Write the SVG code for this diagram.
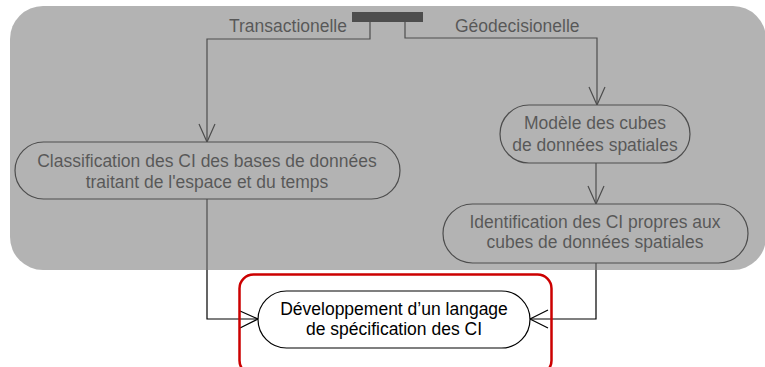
<svg xmlns="http://www.w3.org/2000/svg" width="765" height="367" viewBox="0 0 765 367">
  <style>
    .node { fill: #ffffff; stroke: #000000; stroke-width: 1.2; }
    .lbl { font-family: "Liberation Sans", Arial, sans-serif; font-size: 17.5px; fill: #000000; }
    .dim { fill: #1a1a1a; }
    .mid { text-anchor: middle; }
    .wire { fill: none; stroke: #000000; stroke-width: 1.2; }
    .head { fill: none; stroke: #000000; stroke-width: 1.2; }
  </style>
  <rect width="765" height="367" fill="#ffffff"/>

  <!-- fork bar -->
  <g id="fork">
    <rect x="352" y="12" width="71" height="10" fill="#000000"/>
  </g>

  <!-- connectors -->
  <g id="connectors">
    <polyline class="wire" points="370,22 370,39 207,39 207,142"/>
    <polyline class="head" points="199,124 207,142 215,124"/>
    <polyline class="wire" points="405,22 405,38 597,38 597,105"/>
    <polyline class="head" points="589,87 597,105 605,87"/>
    <line class="wire" x1="596" y1="163" x2="596" y2="204"/>
    <polyline class="head" points="588,186 596,204 604,186"/>
    <polyline class="wire" points="207,199 207,319 258,319"/>
    <polyline class="head" points="240,311 258,319 240,328"/>
    <polyline class="wire" points="596,263 596,319 530,319"/>
    <polyline class="head" points="548,310 530,319 548,328"/>
  </g>

  <!-- guard labels -->
  <g id="guards">
    <text class="lbl dim" x="347" y="32" text-anchor="end">Transactionelle</text>
    <text class="lbl dim" x="455" y="32">Géodecisionelle</text>
  </g>

  <g id="classification">
    <rect class="node" x="15" y="142" width="385" height="57" rx="28.5"/>
    <text class="lbl mid dim" x="207" y="167">Classification des CI des bases de données</text>
    <text class="lbl mid dim" x="207" y="188">traitant de l'espace et du temps</text>
  </g>

  <g id="modele">
    <rect class="node" x="500" y="105" width="190" height="58" rx="29"/>
    <text class="lbl mid dim" x="595" y="129">Modèle des cubes</text>
    <text class="lbl mid dim" x="595" y="151">de données spatiales</text>
  </g>

  <g id="identification">
    <rect class="node" x="443" y="204" width="305" height="59" rx="29.5"/>
    <text class="lbl mid dim" x="595" y="228">Identification des CI propres aux</text>
    <text class="lbl mid dim" x="595" y="248">cubes de données spatiales</text>
  </g>

  <!-- shaded region dims everything drawn beneath it -->
  <rect id="shade" x="10" y="6" width="756" height="264" rx="33" fill="#808080" fill-opacity="0.6"/>

  <g id="developpement">
    <rect class="node" x="258" y="291" width="272" height="57" rx="28.5"/>
    <text class="lbl mid" x="394" y="315">Développement d’un langage</text>
    <text class="lbl mid" x="394" y="335">de spécification des CI</text>
  </g>

  <!-- highlight frame -->
  <rect x="239.5" y="274.5" width="312" height="100" rx="14" fill="none" stroke="#cc0000" stroke-width="2.5"/>
</svg>
